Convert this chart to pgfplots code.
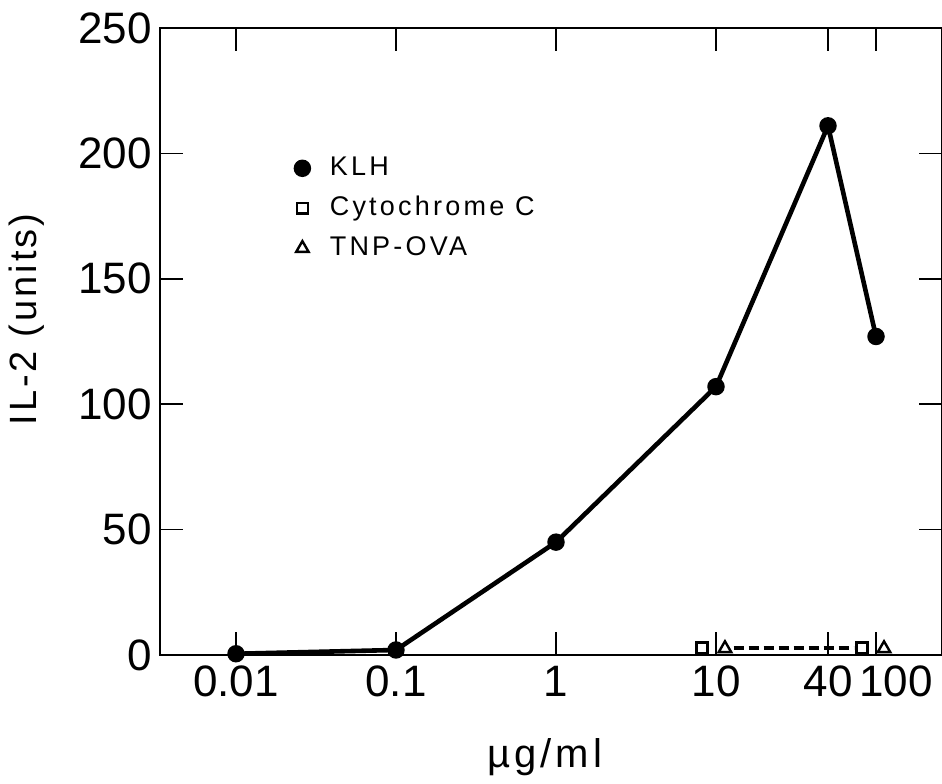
\documentclass[border=0pt]{standalone}
\usepackage{pgfplots}
\pgfplotsset{compat=1.18}
\usepackage{fontspec}
\setmainfont{Liberation Sans}
\pgfplotsset{markonly legend/.style={legend image code/.code={\draw[##1] plot coordinates {(0cm,0cm)};}}}
\begin{document}
\begin{tikzpicture}
\begin{axis}[
  name=ax,
  scale only axis,
  width=391pt, height=313.5pt,
  xmin=-2.475, xmax=2.4125,
  ymin=0, ymax=250,
  clip=false,
  axis line style={line width=1pt},
  xtick={-2,-1,0,1,1.7,2},
  xticklabels={0.01,0.1,1,10,40,\hspace*{20pt}100},
  ytick={0,50,100,150,200,250},
  tick align=inside,
  major tick length=11.5pt,
  tick style={line width=0.8pt, black},
  ticklabel style={font=\fontsize{22}{26}\selectfont},
  /pgf/number format/assume math mode=true,
  xticklabel style={yshift=-2pt},
  yticklabel style={xshift=-0.5pt},
  xlabel={µg/ml},
  xlabel style={at={(axis description cs:0.492,-0.163)}, anchor=center,
    font=\fontsize{20}{24}\selectfont\addfontfeatures{LetterSpace=10}},
  ylabel={IL-2 (units)},
  ylabel style={at={(axis description cs:-0.170,0.535)}, anchor=center,
    font=\fontsize{19}{23}\selectfont\addfontfeatures{LetterSpace=8}},
  legend style={draw=none, fill=none, at={(axis cs:-1.665,201)}, anchor=north west,
    font=\fontsize{13.5}{16}\selectfont\addfontfeatures{LetterSpace=12},
    row sep=7pt, column sep=10.5pt,
    nodes={inner sep=0pt, text height=10pt, text depth=3pt}},
  legend cell align=left,
]
\addplot[line width=2.3pt, black, mark=*, mark size=3.2pt, markonly legend]
  coordinates {(-2,0.5) (-1,2) (0,45) (1,107) (1.7,211) (2,127)};
\addlegendentry{KLH}
\addplot[only marks, black, mark=square, mark size=2.7pt, mark options={line width=1.2pt}, markonly legend]
  coordinates {(0.9125,2.8) (1.9125,2.8)};
\addlegendentry{Cytochrome C}
\addplot[only marks, black, mark=triangle, mark size=3.6pt, mark options={line width=1.2pt}, markonly legend]
  coordinates {(1.056,2.6) (2.05,2.6)};
\addlegendentry{TNP-OVA}
\addplot[black, line width=1.8pt, dash pattern=on 5pt off 2.5pt, forget plot]
  coordinates {(1.11,2.8) (1.86,2.8)};
\end{axis}
\pgfresetboundingbox
\path ([shift={(-80pt,-64pt)}]ax.south west) rectangle ([shift={(0pt,14pt)}]ax.north east);
\end{tikzpicture}
\end{document}
